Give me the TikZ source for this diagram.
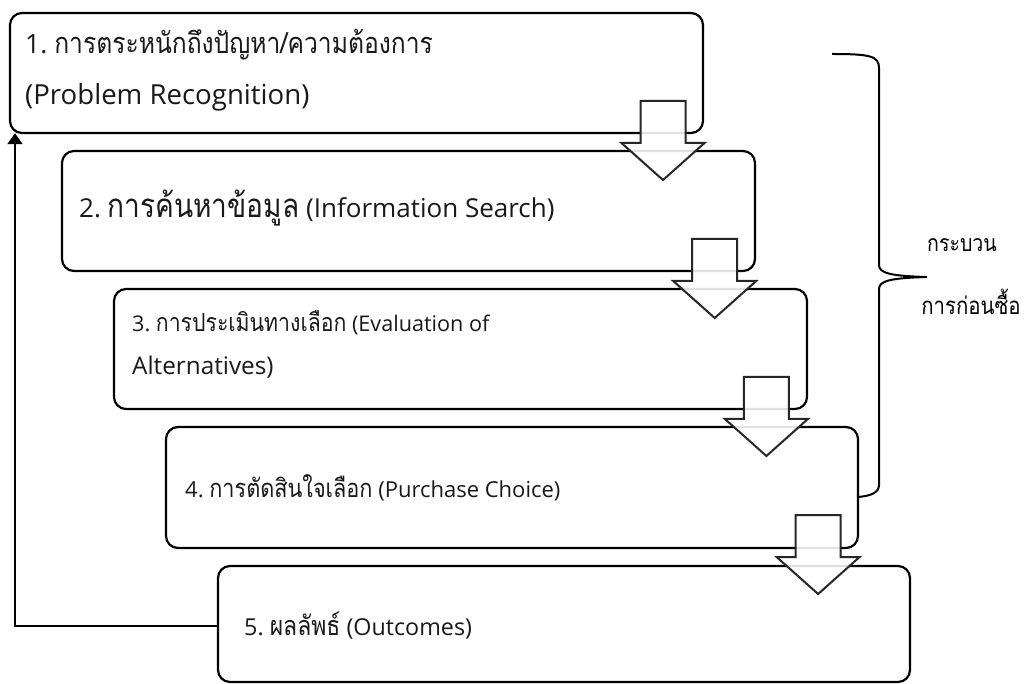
\documentclass[tikz,border=0pt]{standalone}
\usepackage{fontspec}
\setmainfont[Script=Thai]{Loma}
\newfontfamily\thaifont[Script=Thai,FakeStretch=0.85]{Loma}
\newfontfamily\latfont{Open Sans}
\newcommand{\latseg}[2]{{\fontsize{#1}{#1}\selectfont\latfont #2}}
\newcommand{\thaiseg}[2]{{\fontsize{#1}{#1}\selectfont\thaifont #2}}
\usetikzlibrary{arrows.meta}
\begin{document}
\begin{tikzpicture}[x=1pt,y=-1pt,
  stagebox/.style={draw=black, line width=2.2pt, rounded corners=12pt, fill=white},
  stagenode/.style={inner sep=0pt, rectangle},
  blockarrow/.style={draw=black!85, line width=2pt, fill=white, fill opacity=0.88, line join=miter},
  lbl/.style={anchor=west, inner sep=0pt, text=black!90},
  feed/.style={line width=2pt, -{Triangle[length=11pt,width=15pt]}},
  bracestyle/.style={line width=2pt}
]
\useasboundingbox (0,0) rectangle (1034,684);
% boxes (corners in pixel coordinates)
\path[stagebox] (10,13) rectangle (703,133);
\node[stagenode, minimum width=693pt, minimum height=120pt] (b1) at (356.5,73) {};
\path[stagebox] (62,151) rectangle (755,271);
\node[stagenode, minimum width=693pt, minimum height=120pt] (b2) at (408.5,211) {};
\path[stagebox] (114,289) rectangle (807,409);
\node[stagenode, minimum width=693pt, minimum height=120pt] (b3) at (460.5,349) {};
\path[stagebox] (166,427) rectangle (858,548);
\node[stagenode, minimum width=692pt, minimum height=121pt] (b4) at (512,487.5) {};
\path[stagebox] (218,566) rectangle (910,682);
\node[stagenode, minimum width=692pt, minimum height=116pt] (b5) at (564,624) {};
% labels
\node[lbl] (t1a) at (25,45) {\latseg{26.5}{1.\ }\thaiseg{29}{การตระหนักถึงปัญหา/ความต้องการ}};
\node[lbl] (t1b) at (25,97) {\latseg{27.6}{(Problem Recognition)}};
\node[lbl] (t2) at (79,208) {\latseg{26}{2.\ }\thaiseg{33}{การค้นหาข้อมูล}\latseg{26}{\ (Information Search)}};
\node[lbl] (t3a) at (132,323) {\latseg{21.6}{3.\ }\thaiseg{25}{การประเมินทางเลือก}\latseg{21.6}{\ (Evaluation of}};
\node[lbl] (t3b) at (132,367) {\latseg{24.3}{Alternatives)}};
\node[lbl] (t4) at (185,488) {\latseg{22}{4.\ }\thaiseg{25.5}{การตัดสินใจเลือก}\latseg{22}{\ (Purchase Choice)}};
\node[lbl] (t5) at (244,626) {\latseg{23.3}{5.\ }\thaiseg{27}{ผลลัพธ์}\latseg{23.3}{\ (Outcomes)}};
% block arrows between stages
\foreach \k in {0,1,2,3}{
  \pgfmathsetmacro{\cx}{663+51.7*\k}
  \pgfmathsetmacro{\ty}{101+138*\k}
  \draw[blockarrow] (\cx-22.5,\ty) -- (\cx+22.5,\ty) -- (\cx+22.5,\ty+42) -- (\cx+41.5,\ty+42)
     -- (\cx,\ty+79) -- (\cx-41.5,\ty+42) -- (\cx-22.5,\ty+42) -- cycle;
}
% feedback loop
\coordinate (fbcorner) at (15,626);
\draw[feed] (b5.west |- 0,626) -- (fbcorner) -- (fbcorner |- b1.south);
% brace
\draw[bracestyle] (832,54) .. controls (870,54) and (879,56) .. (879,68) -- (879,265)
  .. controls (879,273) and (890,276) .. (927,277)
  .. controls (890,278) and (879,281) .. (879,289) -- (879,485)
  .. controls (879,493) and (870,496) .. (858,497);
\node[inner sep=0pt] (bl1) at (962,245) {\thaiseg{23}{กระบวน}};
\node[inner sep=0pt] (bl2) at (971,302) {\thaiseg{24}{การก่อนซื้อ}};
\end{tikzpicture}
\end{document}
